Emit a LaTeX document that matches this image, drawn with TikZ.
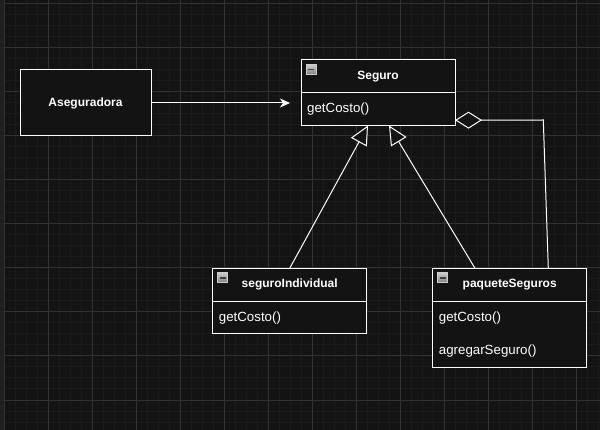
\documentclass[tikz,border=0pt]{standalone}
\usepackage{fontspec}
\setmainfont{Liberation Sans}
\usetikzlibrary{arrows.meta,calc}
\definecolor{canvas}{HTML}{131313}
\definecolor{gridminor}{HTML}{1B1B1B}
\definecolor{gridmajor}{HTML}{323232}
\definecolor{strip}{HTML}{202020}
\begin{document}
\begin{tikzpicture}[x=1pt,y=-1pt,
  every node/.style={font=\fontsize{13.3}{15}\selectfont, text=white},
  box/.style={draw=white, line width=1pt, fill=canvas, inner sep=0pt, outer sep=0pt, anchor=north west},
  classtitle/.style={font=\fontsize{12}{14}\selectfont\bfseries},
  member/.style={anchor=west, inner sep=0pt},
  wire/.style={draw=white, line width=1pt},
  assoc/.style={wire, -{Stealth[length=10pt, width=9pt, inset=3pt, fill=white]}},
  inherit/.style={wire, -{Triangle[length=19pt, width=18pt, fill=canvas]}},
  aggr/.style={wire, line join=miter, -{Diamond[length=27pt, width=17pt, fill=canvas]}},
  collapse/.pic={
    \draw[draw=white!80!black, top color=white!80!black, bottom color=white!50!black, line width=0.6pt] (0,0) rectangle (10,10);
    \draw[black!75, line width=1.6pt] (2,5) -- (8,5);
  }
]
% canvas and grid
\fill[canvas] (0,0) rectangle (600,430);
\useasboundingbox (0,0) rectangle (600,430);
\foreach \k in {0,...,54} \draw[gridminor, line width=1pt] ({4+11*\k},0) -- ({4+11*\k},430);
\foreach \k in {0,...,38} \draw[gridminor, line width=1pt] (0,{4+11*\k}) -- (600,{4+11*\k});
\foreach \m in {0,...,13} \draw[gridmajor, line width=1pt] ({4+44*\m},0) -- ({4+44*\m},430);
\foreach \m in {0,...,9} \draw[gridmajor, line width=1pt] (0,{4+44*\m}) -- (600,{4+44*\m});
\fill[strip] (0,0) rectangle (3.5,430);

% client
\node[box, classtitle, minimum width=131pt, minimum height=66pt] (aseg) at (20,70) {Aseguradora};

% component
\node[box, classtitle, minimum width=154pt, minimum height=32.5pt] (seguro) at (301,60) {Seguro};
\node[box, minimum width=154pt, minimum height=33pt] (seguroBody) at (seguro.south west) {};
\pic at ($(seguro.north west)+(5,4.5)$) {collapse};
\node[member] (seguroGet) at ($(seguroBody.west)+(6,0)$) {getCosto()};

% leaf
\node[box, classtitle, minimum width=154pt, minimum height=33pt] (indiv) at (212.7,268.3) {seguroIndividual};
\node[box, minimum width=154pt, minimum height=32.7pt] (indivBody) at (indiv.south west) {};
\pic at ($(indiv.north west)+(5,4.5)$) {collapse};
\node[member] (indivGet) at ($(indivBody.west)+(6,0)$) {getCosto()};

% composite
\node[box, classtitle, minimum width=154pt, minimum height=33pt] (pq) at (432.7,268.3) {paqueteSeguros};
\node[box, minimum width=154pt, minimum height=66.4pt] (pqBody) at (pq.south west) {};
\pic at ($(pq.north west)+(5,4.5)$) {collapse};
\node[member] (pqGet) at ($(pqBody.north west)+(6,16.7)$) {getCosto()};
\node[member] (pqAdd) at ($(pqBody.north west)+(6,49.4)$) {agregarSeguro()};

% connectors
\coordinate (asegTip) at ($(aseg.east)+(139,0)$);
\draw[assoc] (aseg.east) -- (asegTip);

\coordinate (inhL) at ($(seguroBody.south west)+(67,0)$);
\coordinate (inhR) at ($(seguroBody.south west)+(88,0)$);
\coordinate (pqFoot) at ($(pq.north west)+(42.3,0)$);
\draw[inherit] (indiv.north) -- (inhL);
\draw[inherit] (pqFoot) -- (inhR);

\coordinate (aggStart) at ($(pq.north west)+(115.6,0)$);
\coordinate (aggEnd) at ($(seguroBody.north east)+(0,27.7)$);
\coordinate (aggBend) at (543.3,120);
\draw[aggr] (aggStart) -- (aggBend) -- (aggEnd);
\end{tikzpicture}
\end{document}
